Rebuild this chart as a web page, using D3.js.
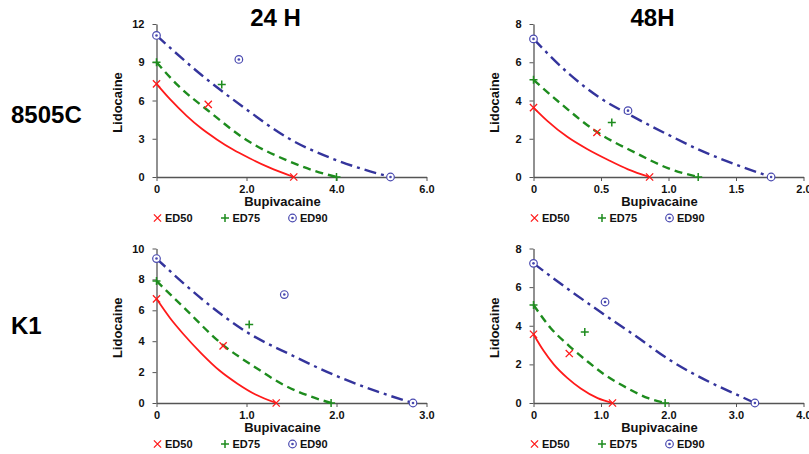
<!DOCTYPE html>
<html>
<head>
<meta charset="utf-8">
<script src="https://cdnjs.cloudflare.com/ajax/libs/d3/7.8.5/d3.min.js"></script>
<style>
  body { margin: 0; background: #fff; }
  svg { display: block; }
</style>
</head>
<body>
<svg id="chart"></svg>
<script>
// panel order: 8505C 24H, 8505C 48H, K1 24H, K1 48H
const rowLabels = ["8505C", "K1"];
const colTitles = ["24 H", "48H"];
const legendNames = ["ED50", "ED75", "ED90"];

const xMax = [6, 2, 3, 4];
const yMax = [12, 8, 10, 8];
const xTicks = [[0, 2, 4, 6], [0, 0.5, 1, 1.5, 2], [0, 1, 2, 3], [0, 1, 2, 3, 4]];
const yTicks = [[0, 3, 6, 9, 12], [0, 2, 4, 6, 8], [0, 2, 4, 6, 8, 10], [0, 2, 4, 6, 8]];

// isobole curves [bupivacaine, lidocaine]
const curves50 = [
    [[0, 7.3], [0.3, 6.1], [0.67, 4.8], [1.0, 3.8], [1.34, 2.95], [1.7, 2.15], [2.08, 1.45], [2.5, 0.75], [3.05, 0]],
    [[0, 3.63], [0.1, 2.95], [0.25, 2.1], [0.4, 1.45], [0.55, 0.9], [0.7, 0.4], [0.86, 0]],
    [[0, 6.74], [0.15, 5.5], [0.3, 4.45], [0.5, 3.2], [0.7, 2.1], [0.9, 1.25], [1.1, 0.55], [1.33, 0]],
    [[0, 3.56], [0.15, 2.7], [0.3, 2.0], [0.5, 1.3], [0.7, 0.75], [0.95, 0.25], [1.17, 0]]
];
const curves75 = [
    [[0, 9.0], [0.5, 7.1], [1.15, 5.2], [2.0, 2.9], [2.9, 1.3], [3.5, 0.5], [4.0, 0]],
    [[0, 5.08], [0.2, 3.85], [0.46, 2.4], [0.76, 1.25], [1.0, 0.45], [1.22, 0]],
    [[0, 7.9], [0.3, 6.2], [0.74, 3.75], [1.1, 2.3], [1.42, 1.15], [1.7, 0.45], [1.94, 0]],
    [[0, 5.08], [0.25, 3.9], [0.53, 2.95], [0.8, 2.15], [1.04, 1.5], [1.4, 0.75], [1.7, 0.25], [1.95, 0]]
];
const curves90 = [
    [[0, 11.1], [1.0, 8.0], [2.0, 5.3], [2.9, 3.1], [3.9, 1.45], [4.6, 0.6], [5.2, 0]],
    [[0, 7.22], [0.27, 5.35], [0.5, 4.1], [0.7, 3.3], [1.0, 2.2], [1.25, 1.35], [1.5, 0.65], [1.76, 0]],
    [[0, 9.35], [0.5, 6.75], [1.0, 4.6], [1.5, 3.1], [2.0, 1.75], [2.45, 0.75], [2.85, 0]],
    [[0, 7.23], [0.55, 5.8], [1.04, 4.6], [1.5, 3.5], [2.03, 2.2], [2.6, 1.1], [3.0, 0.45], [3.28, 0]]
];

// measured points: lidocaine alone, combination, bupivacaine alone
const pts50 = [
    [[0, 7.3], [1.15, 5.7], [3.05, 0]],
    [[0, 3.63], [0.47, 2.33], [0.86, 0]],
    [[0, 6.74], [0.74, 3.7], [1.33, 0]],
    [[0, 3.56], [0.53, 2.56], [1.17, 0]]
];
const pts75 = [
    [[0, 9.0], [1.45, 7.25], [4.0, 0]],
    [[0, 5.08], [0.58, 2.85], [1.22, 0]],
    [[0, 7.9], [1.03, 5.08], [1.94, 0]],
    [[0, 5.08], [0.76, 3.68], [1.95, 0]]
];
const pts90 = [
    [[0, 11.1], [1.83, 9.22], [5.2, 0]],
    [[0, 7.22], [0.70, 3.47], [1.76, 0]],
    [[0, 9.35], [1.42, 7.02], [2.85, 0]],
    [[0, 7.23], [1.06, 5.23], [3.28, 0]]
];

const width = 809, height = 454;
const font = "'Liberation Sans', Arial, sans-serif";
const red = "#ff1a1a", green = "#1e8c1e", blue = "#34349c", blueMark = "#4a4ab0";

// plot boxes (pixel extents of the axes)
const colX = [[156.5, 426.5], [533.5, 803.5]];
const rowY = [[177, 24], [403, 248.5]];

const svg = d3.select("#chart")
    .attr("width", width)
    .attr("height", height)
    .style("font-family", font);

function marker(g, type, x, y) {
    if (type === 0) {
        g.append("path")
            .attr("d", `M${x - 3.6},${y - 3.6}L${x + 3.6},${y + 3.6}M${x - 3.6},${y + 3.6}L${x + 3.6},${y - 3.6}`)
            .attr("stroke", red).attr("stroke-width", 1.3).attr("fill", "none");
    } else if (type === 1) {
        g.append("path")
            .attr("d", `M${x - 4},${y}H${x + 4}M${x},${y - 4}V${y + 4}`)
            .attr("stroke", green).attr("stroke-width", 1.5).attr("fill", "none");
    } else {
        g.append("circle").attr("cx", x).attr("cy", y).attr("r", 3.8)
            .attr("fill", "#fff").attr("stroke", blueMark).attr("stroke-width", 1.2);
        g.append("circle").attr("cx", x).attr("cy", y).attr("r", 1.3).attr("fill", blueMark);
    }
}

const lineStyles = [
    { color: red, width: 1.8, dash: null },
    { color: green, width: 2.4, dash: "8,5" },
    { color: blue, width: 2.4, dash: "12,5,3,5" }
];

for (let p = 0; p < 4; p++) {
    const row = Math.floor(p / 2), col = p % 2;
    const g = svg.append("g");

    const x = d3.scaleLinear().domain([0, xMax[p]]).range(colX[col]);
    const y = d3.scaleLinear().domain([0, yMax[p]]).range(rowY[row]);

    // Axes
    const xAxis = g.append("g")
        .attr("transform", `translate(0,${rowY[row][0]})`)
        .call(d3.axisBottom(x).tickValues(xTicks[p]).tickSize(4).tickSizeOuter(0).tickPadding(4)
            .tickFormat(d => d === 0 ? "0" : d3.format(".1f")(d)));
    const yAxis = g.append("g")
        .attr("transform", `translate(${colX[col][0]},0)`)
        .call(d3.axisLeft(y).tickValues(yTicks[p]).tickSize(4).tickSizeOuter(0).tickPadding(8)
            .tickFormat(d3.format("d")));
    [xAxis, yAxis].forEach(a => {
        a.select(".domain").attr("stroke", "#555").attr("stroke-width", 1.3);
        a.selectAll(".tick line").attr("stroke", "#555");
        a.selectAll("text")
            .attr("fill", "#111")
            .style("font-family", font)
            .style("font-size", "11px")
            .style("font-weight", "bold");
    });

    // Curves
    const line = d3.line().x(d => x(d[0])).y(d => y(d[1])).curve(d3.curveMonotoneX);
    [curves50[p], curves75[p], curves90[p]].forEach((c, i) => {
        g.append("path")
            .attr("d", line(c))
            .attr("fill", "none")
            .attr("stroke", lineStyles[i].color)
            .attr("stroke-width", lineStyles[i].width)
            .attr("stroke-dasharray", lineStyles[i].dash);
    });

    // Points
    [pts50[p], pts75[p], pts90[p]].forEach((ps, i) => {
        ps.forEach(d => marker(g, i, x(d[0]), y(d[1])));
    });

    // Axis labels
    g.append("text")
        .attr("x", colX[col][0] + 126)
        .attr("y", rowY[row][0] + 29)
        .attr("text-anchor", "middle")
        .attr("font-size", 13)
        .attr("font-weight", "bold")
        .attr("fill", "#111")
        .text("Bupivacaine");
    const midY = (rowY[row][0] + rowY[row][1]) / 2 + 2;
    g.append("text")
        .attr("transform", `translate(${colX[col][0] - 35},${midY}) rotate(-90)`)
        .attr("text-anchor", "middle")
        .attr("font-size", 13)
        .attr("font-weight", "bold")
        .attr("fill", "#111")
        .text("Lidocaine");

    // Legend
    const ly = rowY[row][0] + 41;
    legendNames.forEach((name, i) => {
        const lx = colX[col][0] + 1 + i * 67.5;
        marker(g, i, lx, ly);
        g.append("text")
            .attr("x", lx + 7.5)
            .attr("y", ly + 4)
            .attr("font-size", 11)
            .attr("font-weight", "bold")
            .attr("fill", "#111")
            .text(name);
    });
}

// Column titles
colTitles.forEach((t, i) => {
    svg.append("text")
        .attr("x", colX[i][0] + 119)
        .attr("y", 26)
        .attr("text-anchor", "middle")
        .attr("font-size", 24)
        .attr("font-weight", "bold")
        .attr("fill", "#000")
        .text(t);
});

// Row labels
rowLabels.forEach((t, i) => {
    svg.append("text")
        .attr("x", 11)
        .attr("y", [123, 334][i])
        .attr("font-size", 24)
        .attr("font-weight", "bold")
        .attr("fill", "#000")
        .text(t);
});
</script>
</body>
</html>
